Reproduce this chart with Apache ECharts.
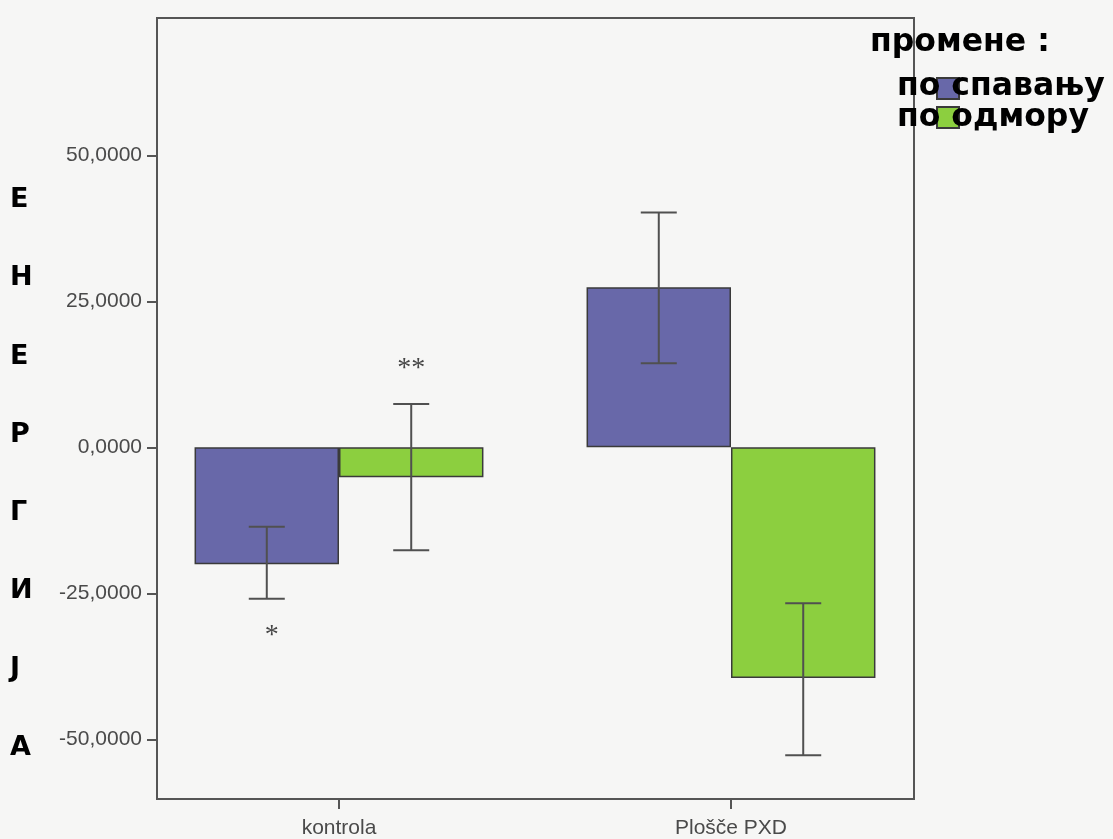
<!DOCTYPE html>
<html><head><meta charset="utf-8">
<script src="https://cdn.jsdelivr.net/npm/echarts@6/dist/echarts.min.js"></script>
<style>html,body{margin:0;padding:0;background:#f6f6f5;} #c{width:1113px;height:839px;}</style>
</head><body><div id="c"></div>
<script>
// ---- data ----
const categories = ['kontrola', 'Plošče PXD'];
const seriesNames = ['по спавању', 'по одмору'];
const sleepMean = [-20.0, 27.4];
const sleepLow = [-25.9, 14.4];
const sleepHigh = [-13.6, 40.2];
const restMean = [-5.1, -39.5];
const restLow = [-17.6, -52.7];
const restHigh = [7.4, -26.7];
const sleepMarks = ['*', ''];   // drawn below the lower end
const restMarks = ['**', ''];   // drawn above the upper end
const yTicks = [-50, -25, 0, 25, 50];
const yMin = -60.2, yMax = 73.5;
const axisTitle = 'ЕНЕРГИЈА';
const legendTitle = 'промене :';

const GAP = 0.263;
const BLUE = '#6868a9', GREEN = '#8ccf3f';
const EDGE = '#3a3a3a', ERR = '#505050';
const FRAME = '#555';

function errRender(side, marks, below) {
  return function (params, api) {
    const ci = api.value(0);
    const lo = api.coord([ci, api.value(1)]);
    const hi = api.coord([ci, api.value(2)]);
    const band = api.size([1, 0])[0];
    const bw = band * (1 - GAP) / 2;
    const x = lo[0] + side * bw / 2;
    const cap = 18;
    const st = { stroke: ERR, lineWidth: 2 };
    const children = [
      { type: 'line', shape: { x1: x, y1: hi[1], x2: x, y2: lo[1] }, style: st },
      { type: 'line', shape: { x1: x - cap, y1: hi[1], x2: x + cap, y2: hi[1] }, style: st },
      { type: 'line', shape: { x1: x - cap, y1: lo[1], x2: x + cap, y2: lo[1] }, style: st }
    ];
    const m = marks[params.dataIndex];
    if (m) {
      children.push({
        type: 'text',
        style: {
          text: m, x: x + (below ? 5 : 0), y: below ? lo[1] + 37 : hi[1] - 35,
          align: 'center', verticalAlign: 'middle',
          font: '28px "Liberation Serif", serif', fill: '#444'
        }
      });
    }
    return { type: 'group', children: children };
  };
}

const chart = echarts.init(document.getElementById('c'));
const labelFont = { fontFamily: 'Liberation Sans, Arial, sans-serif', fontSize: 21, color: '#4a4a4a' };
const boldFont = 'bold 31.5px "DejaVu Sans", Verdana, sans-serif';

chart.setOption({
  backgroundColor: '#f6f6f5',
  animation: false,
  grid: { left: 143, right: 186, top: 18, bottom: 40, show: false },
  legend: {
    data: seriesNames, orient: 'vertical', left: 936, top: 77, padding: 0, z: 1,
    itemWidth: 22, itemHeight: 21, itemGap: 6, icon: 'rect',
    formatter: function () { return ''; },
    selectedMode: false
  },
  xAxis: {
    type: 'category', data: categories,
    axisLine: { show: false, onZero: false },
    axisTick: { show: true, alignWithLabel: true, length: 10, lineStyle: { color: FRAME, width: 2 } },
    axisLabel: Object.assign({ margin: 19 }, labelFont),
    splitLine: { show: false }
  },
  yAxis: {
    type: 'value', min: yMin, max: yMax, offset: -14,
    axisLine: { show: true, lineStyle: { color: FRAME, width: 2 } },
    axisTick: { show: true, length: 10, customValues: yTicks, lineStyle: { color: FRAME, width: 2 } },
    axisLabel: Object.assign({ margin: 15, customValues: yTicks,
      formatter: function (v) { return v.toFixed(4).replace('.', ','); } }, labelFont),
    splitLine: { show: false }
  },
  graphic: {
    elements: [
      { type: 'rect', z: 100, shape: { x: 157, y: 18, width: 757, height: 781 },
        style: { fill: 'none', stroke: FRAME, lineWidth: 2 } },
      { type: 'text', left: 10, top: 161, z: 100,
        style: { text: axisTitle.split('').join('\n'), font: 'bold 27px "DejaVu Sans", Verdana, sans-serif',
          fill: '#000', lineHeight: 78.2, align: 'center' } },
      { type: 'text', x: 870, y: 43, zlevel: 1,
        style: { text: legendTitle, font: boldFont, fill: '#000', verticalAlign: 'middle' } },
      { type: 'text', x: 897, y: 86.5, zlevel: 1,
        style: { text: seriesNames[0], font: boldFont, fill: '#000', verticalAlign: 'middle' } },
      { type: 'text', x: 897, y: 118, zlevel: 1,
        style: { text: seriesNames[1], font: boldFont, fill: '#000', verticalAlign: 'middle' } }
    ]
  },
  series: [
    { name: seriesNames[0], type: 'bar', data: sleepMean, barGap: 0, barCategoryGap: (GAP * 100) + '%',
      itemStyle: { color: BLUE, borderColor: EDGE, borderWidth: 1.5 } },
    { name: seriesNames[1], type: 'bar', data: restMean, barGap: 0, barCategoryGap: (GAP * 100) + '%',
      itemStyle: { color: GREEN, borderColor: EDGE, borderWidth: 1.5 } },
    { type: 'custom', z: 10, silent: true,
      renderItem: errRender(-1, sleepMarks, true),
      encode: { x: 0, y: [1, 2] },
      data: categories.map(function (c, i) { return [i, sleepLow[i], sleepHigh[i]]; }) },
    { type: 'custom', z: 10, silent: true,
      renderItem: errRender(1, restMarks, false),
      encode: { x: 0, y: [1, 2] },
      data: categories.map(function (c, i) { return [i, restLow[i], restHigh[i]]; }) }
  ]
});
</script>
</body></html>
